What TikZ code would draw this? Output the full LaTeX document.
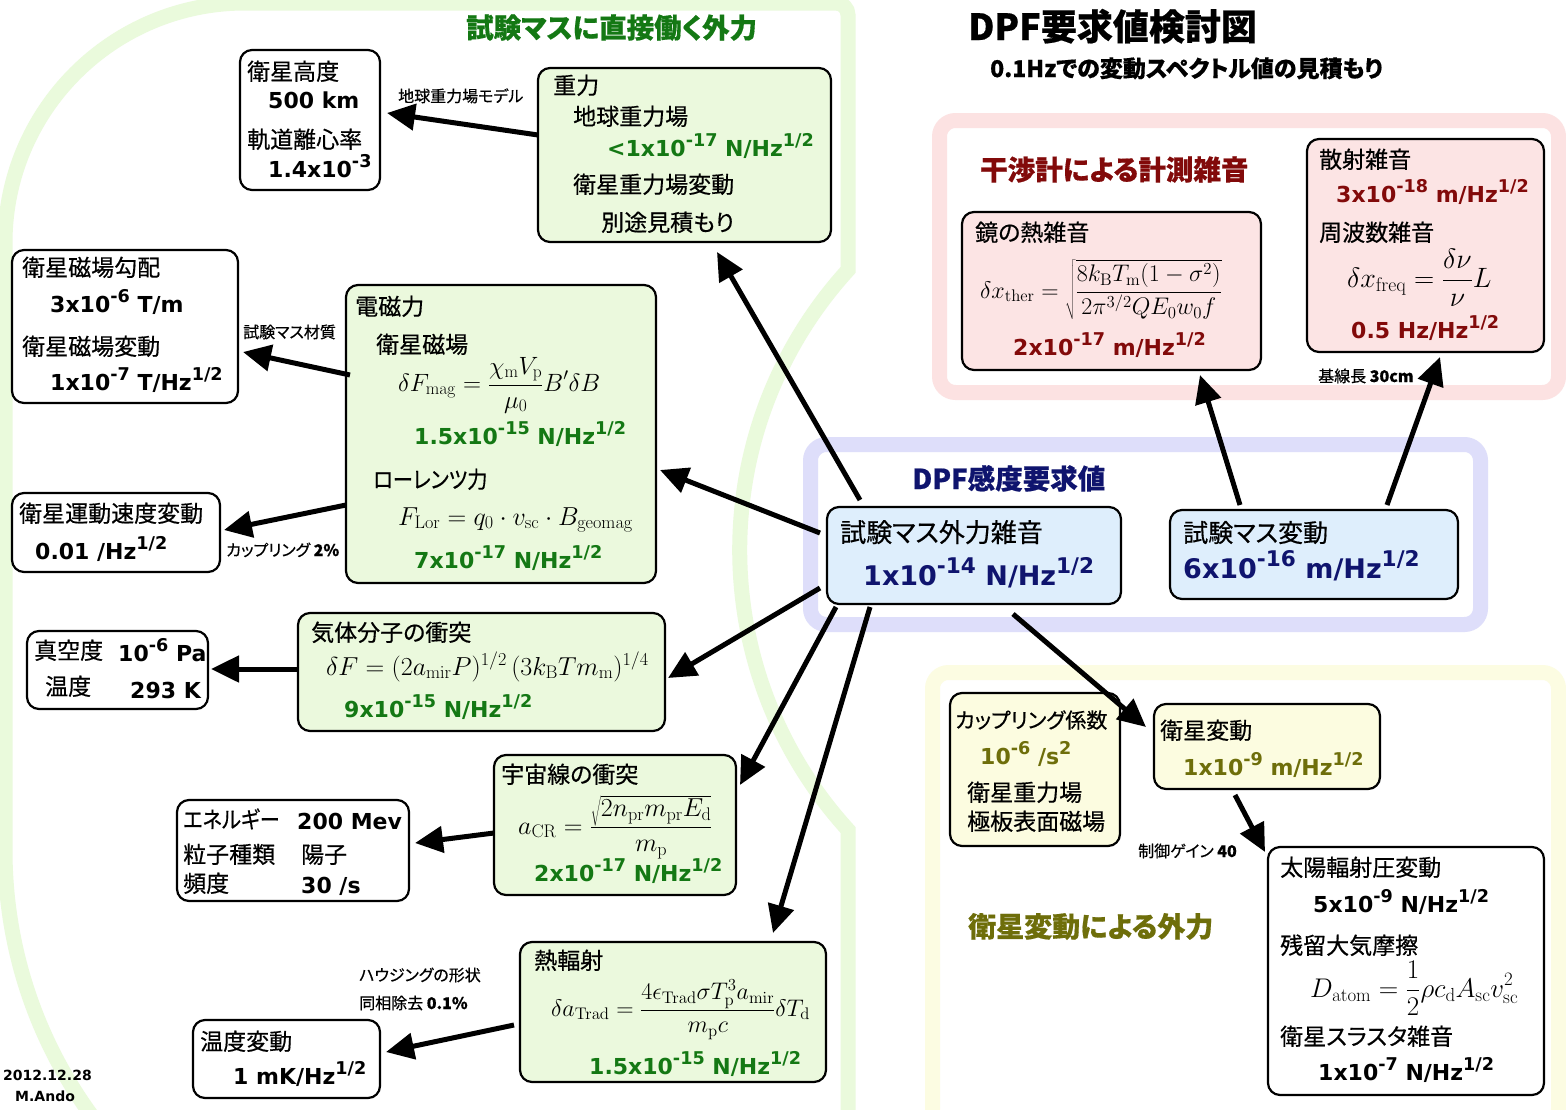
\RequirePackage{fix-cm}
\documentclass[tikz,border=0pt]{standalone}
\usepackage[no-math]{fontspec}
\setmainfont{DejaVu Sans}
\newfontfamily\jp[RawFeature=+palt,FakeBold=0.5]{Noto Sans CJK JP}
\usetikzlibrary{calc,arrows.meta}
\newcommand\fsz[1]{\fontsize{#1}{#1}\selectfont}
\newcommand\su[1]{\raisebox{0.42em}{\scalebox{0.8}{#1}}}
\newcommand\nar[1]{\scalebox{0.88}[1]{#1}}
\definecolor{gband}{RGB}{234,250,220}
\definecolor{bband}{RGB}{222,222,250}
\definecolor{pband}{RGB}{252,226,226}
\definecolor{yband}{RGB}{252,252,226}
\definecolor{gfill}{RGB}{235,249,221}
\definecolor{bfill}{RGB}{222,238,252}
\definecolor{pfill}{RGB}{252,228,228}
\definecolor{yfill}{RGB}{252,252,224}
\definecolor{gtxt}{RGB}{20,120,20}
\definecolor{ntxt}{RGB}{15,20,110}
\definecolor{rtxt}{RGB}{130,10,10}
\definecolor{otxt}{RGB}{110,110,10}
\begin{document}
\begin{tikzpicture}[x=1pt,y=-1pt,
  bx/.style={draw=black, line width=2.2pt, rounded corners=12pt, inner sep=0pt, outer sep=0pt, fill=white},
  gbx/.style={bx, fill=gfill},
  bbx/.style={bx, fill=bfill},
  pbx/.style={bx, fill=pfill},
  ybx/.style={bx, fill=yfill},
  jt/.style={anchor=base west, inner sep=0pt, font=\fsz{23}\jp},
  vt/.style={anchor=base west, inner sep=0pt, font=\fsz{22}\bfseries},
  mt/.style={anchor=base west, inner sep=0pt, font=\fsz{25}},
  lb/.style={anchor=base west, inner sep=0pt, font=\fsz{16}\jp},
  hd/.style={anchor=base west, inner sep=0pt, font=\fsz{27.5}\jp\bfseries},
  arr/.style={line width=5pt, -{Triangle[length=28pt,width=26pt]}},
  band/.style={line width=15pt, rounded corners=16pt}]
\useasboundingbox (0,0) rectangle (1566,1109);
\fill[white] (0,0) rectangle (1566,1109);
% background bands
\draw[gband, line width=15pt] (455,1300) arc[start angle=90,end angle=180,radius=450] -- (5,243) arc[start angle=180,end angle=270,radius=240] -- (836,3) arc[start angle=270,end angle=360,radius=12] -- (848,270) arc[start angle=222.3,end angle=137.7,radius=416] -- (848,1300);
\draw[band, pband] (939.5,120.5) rectangle (1558.5,392.5);
\draw[band, bband] (810.5,444.5) rectangle (1480.5,624.5);
\draw[band, yband] (932.5,672.5) rectangle (1558.5,1125);
% boxes
\node[bx, minimum width=140pt, minimum height=140pt] (alt) at (310,120) {};
\node[gbx, minimum width=293pt, minimum height=174pt] (grav) at (684.5,155) {};
\node[bx, minimum width=226pt, minimum height=153pt] (mag) at (125,326.5) {};
\node[gbx, minimum width=310pt, minimum height=298pt] (em) at (501,434) {};
\node[bx, minimum width=208pt, minimum height=79pt] (vel) at (116,532.5) {};
\node[gbx, minimum width=367pt, minimum height=118pt] (gas) at (481.5,672) {};
\node[bx, minimum width=181pt, minimum height=78pt] (vac) at (117.5,670) {};
\node[gbx, minimum width=242pt, minimum height=140pt] (cr) at (615,825) {};
\node[bx, minimum width=232pt, minimum height=101pt] (en) at (293,850.5) {};
\node[gbx, minimum width=306pt, minimum height=140pt] (th) at (673,1012) {};
\node[bx, minimum width=187pt, minimum height=78pt] (tmp) at (286.5,1059) {};
\node[bbx, minimum width=294pt, minimum height=97pt] (tmf) at (974,555.5) {};
\node[bbx, minimum width=288pt, minimum height=89pt] (tmd) at (1314,554.5) {};
\node[pbx, minimum width=299pt, minimum height=158pt] (mir) at (1111.5,291) {};
\node[pbx, minimum width=237pt, minimum height=213pt] (sca) at (1425.5,245.5) {};
\node[ybx, minimum width=170pt, minimum height=153pt] (cpl) at (1035,769.5) {};
\node[ybx, minimum width=226pt, minimum height=85pt] (sat) at (1267,746.5) {};
\node[bx, minimum width=276pt, minimum height=248pt] (sun) at (1406,971) {};
% titles
\node[anchor=base west, inner sep=0pt, font=\fsz{36}\jp\bfseries] (title) at (968,40) {DPF要求値検討図};
\node[anchor=base west, inner sep=0pt, font=\fsz{23}\jp\bfseries] (subtitle) at (990,77) {0.1Hzでの変動スペクトル値の見積もり};
\node[hd, text=gtxt] (gtitle) at (466,38) {試験マスに直接働く外力};
\node[hd, text=rtxt] (ptitle) at (980,180) {干渉計による計測雑音};
\node[hd, text=ntxt, font=\fsz{27.5}\jp\bfseries] (btitle) at (912,489) {DPF感度要求値};
\node[hd, text=otxt, font=\fsz{28}\jp\bfseries] (ytitle) at (968,937) {衛星変動による外力};
% alt
\node[jt] (altA) at (247,80) {衛星高度};
\node[vt] (altB) at (268,108) {500 km};
\node[jt] (altC) at (247,148) {軌道離心率};
\node[vt] (altD) at (268,177) {1.4x10\su{-3}};
% grav
\node[jt] (gravA) at (553,94) {重力};
\node[jt] (gravB) at (573,125) {地球重力場};
\node[vt, text=gtxt] (gravC) at (607,156) {<1x10\su{-17} N/Hz\su{1/2}};
\node[jt] (gravD) at (573,193) {衛星重力場変動};
\node[jt] (gravE) at (601,231) {別途見積もり};
\node[lb] (lbl1) at (398,102) {地球重力場モデル};
% mag
\node[jt] (magA) at (22,276) {衛星磁場勾配};
\node[vt] (magB) at (50,312) {3x10\su{-6} T/m};
\node[jt] (magC) at (22,355) {衛星磁場変動};
\node[vt] (magD) at (50,390) {1x10\su{-7} T/Hz\su{1/2}};
\node[lb] (lbl2) at (243,338) {試験マス材質};
% em
\node[jt] (emA) at (355,315) {電磁力};
\node[jt] (emB) at (376,353) {衛星磁場};
\node[mt] (emC) at (398,391) {$\displaystyle\delta F_{\mathrm{mag}}=\frac{\chi_{\mathrm{m}}V_{\mathrm{p}}}{\mu_0}B'\delta B$};
\node[vt, text=gtxt] (emD) at (414,444) {1.5x10\su{-15} N/Hz\su{1/2}};
\node[jt] (emE) at (373,488) {\nar{ローレンツ力}};
\node[mt, font=\fsz{26}] (emF) at (398,525) {$F_{\mathrm{Lor}}=q_0\cdot v_{\mathrm{sc}}\cdot B_{\mathrm{geomag}}$};
\node[vt, text=gtxt] (emG) at (414,568) {7x10\su{-17} N/Hz\su{1/2}};
% vel
\node[jt] (velA) at (19,522) {衛星運動速度変動};
\node[vt] (velB) at (35,559) {0.01 /Hz\su{1/2}};
\node[lb] (lbl3) at (226,556) {カップリング {\bfseries 2\%}};
% gas
\node[jt] (gasA) at (311,641) {気体分子の衝突};
\node[mt, font=\fsz{26}] (gasB) at (326,675) {$\delta F=(2a_{\mathrm{mir}}P)^{1/2}\,(3k_{\mathrm{B}}Tm_{\mathrm{m}})^{1/4}$};
\node[vt, text=gtxt] (gasC) at (344,717) {9x10\su{-15} N/Hz\su{1/2}};
% vac
\node[jt] (vacA) at (34,659) {真空度};
\node[vt] (vacB) at (118,661) {10\su{-6} Pa};
\node[jt] (vacC) at (45,695) {温度};
\node[vt] (vacD) at (130,698) {293 K};
% cr
\node[jt] (crA) at (501,783) {宇宙線の衝突};
\node[mt, font=\fsz{26}] (crB) at (518,834) {$\displaystyle a_{\mathrm{CR}}=\frac{\sqrt{2n_{\mathrm{pr}}m_{\mathrm{pr}}E_{\mathrm{d}}}}{m_{\mathrm{p}}}$};
\node[vt, text=gtxt] (crC) at (534,881) {2x10\su{-17} N/Hz\su{1/2}};
% en
\node[jt] (enA) at (183,828) {\nar{エネルギー}};
\node[vt] (enB) at (297,829) {200 Mev};
\node[jt] (enC) at (183,863) {粒子種類};
\node[jt] (enD) at (301,863) {陽子};
\node[jt] (enE) at (183,892) {頻度};
\node[vt] (enF) at (301,893) {30 /s};
% th
\node[jt] (thA) at (534,969) {熱輻射};
\node[mt, font=\fsz{24}] (thB) at (551,1016) {$\displaystyle\delta a_{\mathrm{Trad}}=\frac{4\epsilon_{\mathrm{Trad}}\sigma T_{\mathrm{p}}^3a_{\mathrm{mir}}}{m_{\mathrm{p}}c}\delta T_{\mathrm{d}}$};
\node[vt, text=gtxt] (thC) at (589,1074) {1.5x10\su{-15} N/Hz\su{1/2}};
% tmp
\node[jt] (tmpA) at (200,1050) {温度変動};
\node[vt] (tmpB) at (233,1084) {1 mK/Hz\su{1/2}};
\node[lb] (lbl4) at (359,981) {ハウジングの形状};
\node[lb] (lbl5) at (359,1009) {同相除去 {\bfseries 0.1\%}};
% date
\node[anchor=base west, inner sep=0pt, font=\fsz{14}\bfseries] (date) at (3,1080) {2012.12.28};
\node[anchor=base west, inner sep=0pt, font=\fsz{14}\bfseries] (auth) at (15,1101) {M.Ando};
% blue
\node[jt, font=\fsz{26}\jp] (tmfA) at (840,542) {試験マス外力雑音};
\node[vt, font=\fsz{27}\bfseries, text=ntxt] (tmfB) at (863,585) {1x10\su{-14} N/Hz\su{1/2}};
\node[jt, font=\fsz{25}\jp] (tmdA) at (1183,542) {試験マス変動};
\node[vt, font=\fsz{27}\bfseries, text=ntxt] (tmdB) at (1183,578) {6x10\su{-16} m/Hz\su{1/2}};
% pink
\node[jt] (mirA) at (975,241) {鏡の熱雑音};
\node[mt, font=\fsz{24}] (mirB) at (980,298) {$\displaystyle\delta x_{\mathrm{ther}}=\sqrt{\frac{8k_{\mathrm{B}}T_{\mathrm{m}}(1-\sigma^2)}{2\pi^{3/2}QE_0w_0f}}$};
\node[vt, text=rtxt] (mirC) at (1013,355) {2x10\su{-17} m/Hz\su{1/2}};
\node[jt] (scaA) at (1319,168) {散射雑音};
\node[vt, text=rtxt] (scaB) at (1336,202) {3x10\su{-18} m/Hz\su{1/2}};
\node[jt] (scaC) at (1319,241) {周波数雑音};
\node[mt, font=\fsz{28}] (scaD) at (1347,287) {$\displaystyle\delta x_{\mathrm{freq}}=\frac{\delta\nu}{\nu}L$};
\node[vt, text=rtxt] (scaE) at (1351,338) {0.5 Hz/Hz\su{1/2}};
\node[lb] (lbl6) at (1318,382) {基線長 {\bfseries 30cm}};
% yellow
\node[jt, font=\fsz{21}\jp] (cplA) at (955,728) {カップリング係数};
\node[vt, text=otxt] (cplB) at (980,764) {10\su{-6} /s\su{2}};
\node[jt] (cplC) at (967,801) {衛星重力場};
\node[jt] (cplD) at (967,830) {極板表面磁場};
\node[jt] (satA) at (1160,739) {衛星変動};
\node[vt, text=otxt] (satB) at (1183,775) {1x10\su{-9} m/Hz\su{1/2}};
\node[lb] (lbl7) at (1138,857) {制御ゲイン {\bfseries 40}};
\node[jt] (sunA) at (1280,876) {太陽輻射圧変動};
\node[vt] (sunB) at (1313,912) {5x10\su{-9} N/Hz\su{1/2}};
\node[jt] (sunC) at (1280,954) {残留大気摩擦};
\node[mt, font=\fsz{27}] (sunD) at (1310,997) {$\displaystyle D_{\mathrm{atom}}=\frac{1}{2}\rho c_{\mathrm{d}}A_{\mathrm{sc}}v_{\mathrm{sc}}^2$};
\node[jt] (sunE) at (1280,1045) {衛星スラスタ雑音};
\node[vt] (sunF) at (1318,1080) {1x10\su{-7} N/Hz\su{1/2}};
% arrows
\draw[arr] ($(grav.west)+(0,-20)$) -- ($(alt.east)+(7,-7)$);
\draw[arr] ($(em.west)+(4,-59)$) -- ($(mag.east)+(5,25.5)$);
\draw[arr] ($(em.west)+(0,71)$) -- ($(vel.east)+(4,-2.5)$);
\draw[arr] ($(gas.west)+(0,-3)$) -- ($(vac.east)+(3,-1)$);
\draw[arr] ($(cr.west)+(0,8)$) -- ($(en.east)+(6,-7.5)$);
\draw[arr] ($(th.west)+(-6,13)$) -- ($(tmp.east)+(6,-7)$);
\draw[arr] ($(tmf.north west)+(33,-7)$) -- ($(grav.south west)+(179,10)$);
\draw[arr] ($(tmf.west)+(-7,-22.5)$) -- ($(em.east)+(4,36)$);
\draw[arr] ($(tmf.west)+(-7,32.5)$) -- ($(gas.east)+(3,6)$);
\draw[arr] ($(tmf.south west)+(9,3)$) -- ($(cr.north east)+(4,30)$);
\draw[arr] ($(tmf.south west)+(43,3)$) -- ($(th.north west)+(253,-9)$);
\draw[arr] ($(tmf.south west)+(186,10)$) -- ($(sat.west)+(-8,-19.5)$);
\draw[arr] ($(tmd.north west)+(70,-5)$) -- ($(mir.south east)+(-61,5)$);
\draw[arr] ($(tmd.north west)+(217,-5)$) -- ($(sca.south west)+(133,5)$);
\draw[arr] ($(sat.south west)+(81,6)$) -- ($(sun.north west)+(-3,5)$);
\end{tikzpicture}
\end{document}
